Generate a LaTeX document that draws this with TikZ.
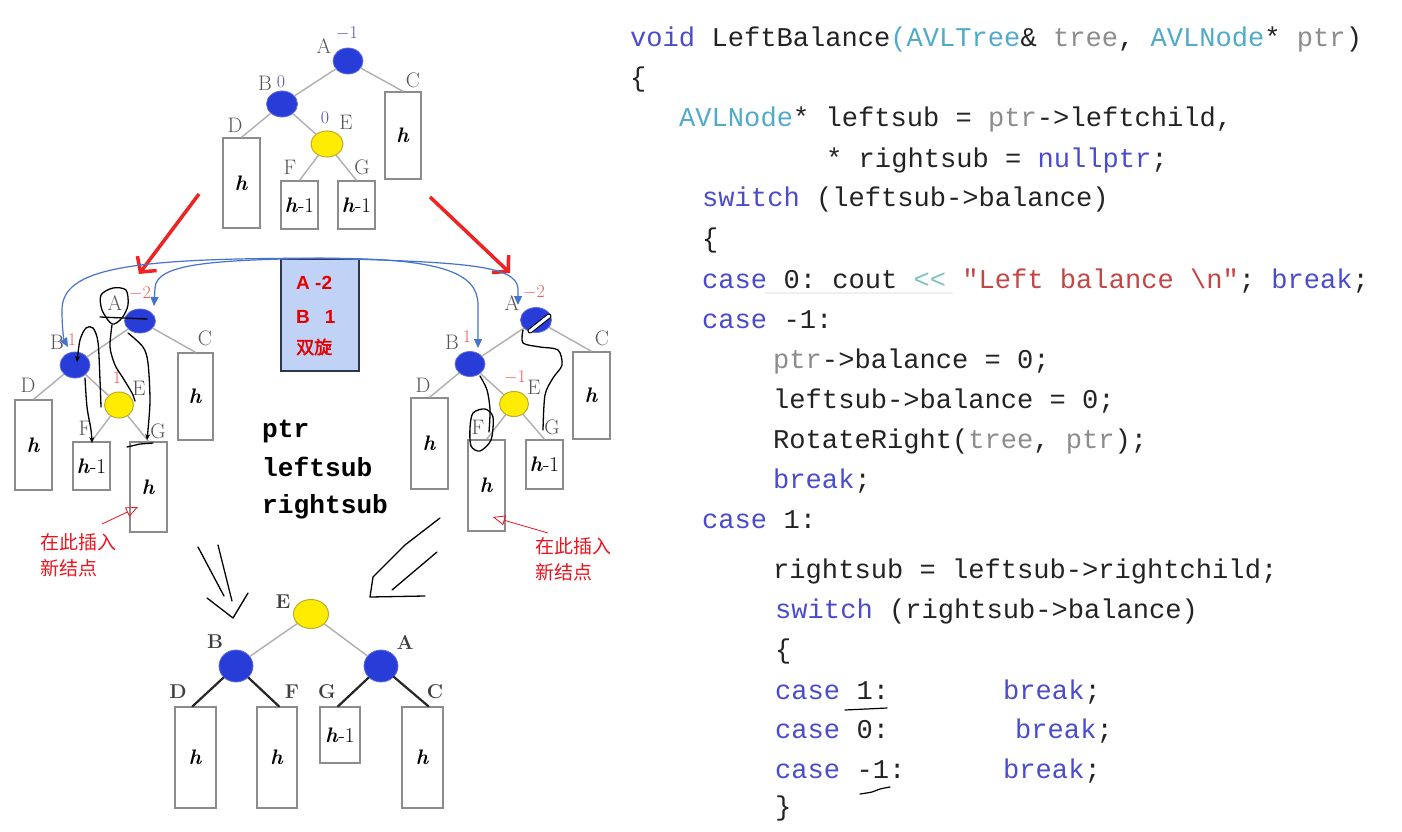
\documentclass[tikz,border=0pt]{standalone}
\usepackage{fontspec}
\setmonofont{Liberation Mono}
\newfontfamily\cjk{Noto Sans CJK SC}
\newfontfamily\cjkb{Noto Sans CJK SC}[FakeBold=2]
\newfontfamily\arialb{Liberation Sans}
\usetikzlibrary{arrows.meta,shapes.geometric}
\definecolor{nblue}{RGB}{40,60,215}
\definecolor{nyellow}{RGB}{255,236,0}
\definecolor{yborder}{RGB}{190,170,40}
\definecolor{egray}{RGB}{175,175,175}
\definecolor{bgray}{RGB}{140,140,140}
\definecolor{lgray}{RGB}{85,85,85}
\definecolor{numblue}{RGB}{80,80,185}
\definecolor{numred}{RGB}{240,90,90}
\definecolor{arrred}{RGB}{240,35,35}
\definecolor{arcblue}{RGB}{70,115,205}
\definecolor{boxfill}{RGB}{192,210,245}
\definecolor{boxdraw}{RGB}{45,55,75}
\definecolor{kwblue}{RGB}{75,75,205}
\definecolor{tyteal}{RGB}{80,170,200}
\definecolor{pgray}{RGB}{140,140,140}
\definecolor{strred}{RGB}{195,70,70}
\definecolor{optl}{RGB}{130,195,195}
\definecolor{codetxt}{RGB}{35,35,35}
\definecolor{insred}{RGB}{235,20,30}
\newcommand{\hsym}{\textbf{\textit{h}}}
\newcommand{\kwd}[1]{\textcolor{kwblue}{#1}}
\newcommand{\typ}[1]{\textcolor{tyteal}{#1}}
\newcommand{\prm}[1]{\textcolor{pgray}{#1}}
\newcommand{\strg}[1]{\textcolor{strred}{#1}}
\newcommand{\opr}[1]{\textcolor{optl}{#1}}
\begin{document}
\begin{tikzpicture}[x=1pt,y=-1pt,
  bnode/.style={ellipse, fill=nblue, draw=nblue!75!white, line width=0.8, inner sep=0},
  ynode/.style={ellipse, fill=nyellow, draw=yborder, line width=1, inner sep=0},
  tbox/.style={rectangle, draw=bgray, line width=1.3, fill=white, inner sep=0, font=\fontsize{21}{21}\selectfont},
  edge/.style={draw=egray, line width=1.4},
  lbl/.style={inner sep=0, text=lgray, font=\fontsize{21}{21}\selectfont},
  blbl/.style={inner sep=0, text=black!75, font=\bfseries\fontsize{20}{20}\selectfont},
  nb/.style={inner sep=0, text=numblue, font=\fontsize{18}{18}\selectfont},
  nr/.style={inner sep=0, text=numred, font=\fontsize{18}{18}\selectfont},
  pen/.style={draw=black, line width=1.3, line cap=round, line join=round},
  penarr/.style={pen, -{Stealth[length=6,width=5]}},
  thickpen/.style={draw=black!85, line width=2.2, line cap=round},
  redarr/.style={draw=arrred, line width=3.5, -{Straight Barb[length=11,width=24]}},
  bluearc/.style={draw=arcblue, line width=1.2, -{Triangle[length=9,width=8]}},
  insarr/.style={draw=insred, line width=0.8, -{Triangle[open,length=12,width=10]}},
  code/.style={anchor=base west, inner sep=0, text=codetxt, font=\ttfamily\fontsize{27.1}{40}\selectfont},
  midtxt/.style={anchor=base west, inner sep=0, text=black, font=\ttfamily\bfseries\fontsize{26.2}{30}\selectfont},
  cn/.style={text=insred, inner sep=0, font=\cjk\fontsize{19}{26}\selectfont, align=left, anchor=north west},
  bxt/.style={anchor=west, inner sep=0, text=red!90!black, font=\arialb\bfseries\fontsize{19}{19}\selectfont}
]
\fill[white] (0,0) rectangle (1402,832);
\useasboundingbox (0,0) rectangle (1402,832);

% ---------------- top tree ----------------
\node[tbox, minimum width=36, minimum height=87] (C0) at (403,135.5) {\hsym};
\node[tbox, minimum width=37, minimum height=90] (D0) at (241.5,183) {\hsym};
\node[tbox, minimum width=37, minimum height=48] (F0) at (299.5,205) {\hsym-1};
\node[tbox, minimum width=37, minimum height=48] (G0) at (356.5,205) {\hsym-1};
\node[bnode, minimum width=30, minimum height=26] (A0) at (348,61) {};
\node[bnode, minimum width=31, minimum height=26] (B0) at (282,104) {};
\node[ynode, minimum width=32, minimum height=26] (E0) at (327,144) {};
\draw[edge] (A0) -- (B0);
\draw[edge] (A0) -- (C0.north);
\draw[edge] (B0) -- (D0.north);
\draw[edge] (B0) -- (E0);
\draw[edge] (E0) -- (F0.north);
\draw[edge] (E0) -- (G0.north);
\node[lbl] (lA0) at (324,46) {A};
\node[nb] (nA0) at (347,33) {$-$1};
\node[lbl] (lB0) at (265,83) {B};
\node[nb] (nB0) at (281,82) {0};
\node[nb] (nE0) at (325,118) {0};
\node[lbl] (lE0) at (346,122) {E};
\node[lbl] (lC0) at (413,80) {C};
\node[lbl] (lD0) at (235,125) {D};
\node[lbl] (lF0) at (290,167) {F};
\node[lbl] (lG0) at (362,167) {G};

% red arrows
\coordinate (r1s) at (199,194);
\coordinate (r1e) at (139,274);
\coordinate (r2s) at (430,197);
\coordinate (r2e) at (510,273);
\draw[redarr] (r1s) -- (r1e);
\draw[redarr] (r2s) -- (r2e);

% ---------------- left tree ----------------
\node[tbox, minimum width=35, minimum height=87] (C1) at (195.5,396.5) {\hsym};
\node[tbox, minimum width=37, minimum height=90] (D1) at (33.5,445) {\hsym};
\node[tbox, minimum width=37, minimum height=48] (F1) at (91.5,466) {\hsym-1};
\node[tbox, minimum width=37, minimum height=90] (G1) at (148.5,487) {\hsym};
\node[bnode, minimum width=31, minimum height=24] (A1) at (140,321) {};
\node[bnode, minimum width=30, minimum height=26] (B1) at (75,365) {};
\node[ynode, minimum width=29, minimum height=26] (E1) at (119,405) {};
\draw[edge] (A1) -- (B1);
\draw[edge] (A1) -- (C1.north);
\draw[edge] (B1) -- (D1.north);
\draw[edge] (B1) -- (E1);
\draw[edge] (E1) -- (F1.north);
\draw[edge] (E1) -- (G1.north);
\node[lbl] (lA1) at (115,303) {A};
\node[nr] (nA1) at (140,293) {$-$2};
\node[lbl] (lB1) at (57,342) {B};
\node[nr] (nB1) at (72,340) {1};
\node[nr] (nE1) at (117,378) {1};
\node[lbl] (lE1) at (139,388) {E};
\node[lbl] (lC1) at (205,338) {C};
\node[lbl] (lD1) at (28,385) {D};
\node[lbl] (lF1) at (85,428) {F};
\node[lbl] (lG1) at (158,431) {G};

% ---------------- right tree ----------------
\node[tbox, minimum width=37, minimum height=87] (C2) at (591.5,395.5) {\hsym};
\node[tbox, minimum width=37, minimum height=91] (D2) at (429.5,443.5) {\hsym};
\node[tbox, minimum width=37, minimum height=91] (F2) at (486.5,485.5) {\hsym};
\node[tbox, minimum width=37, minimum height=49] (G2) at (544.5,464.5) {\hsym-1};
\node[bnode, minimum width=31, minimum height=25] (A2) at (536,320) {};
\node[bnode, minimum width=30, minimum height=25] (B2) at (470,364) {};
\node[ynode, minimum width=29, minimum height=25] (E2) at (514,404) {};
\draw[edge] (A2) -- (B2);
\draw[edge] (A2) -- (C2.north);
\draw[edge] (B2) -- (D2.north);
\draw[edge] (B2) -- (E2);
\draw[edge] (E2) -- (F2.north);
\draw[edge] (E2) -- (G2.north);
\node[lbl] (lA2) at (512,303) {A};
\node[nr] (nA2) at (534,292) {$-$2};
\node[lbl] (lB2) at (452,342) {B};
\node[nr] (nB2) at (467,337) {1};
\node[nr] (nE2) at (515,377) {$-$1};
\node[lbl] (lE2) at (534,387) {E};
\node[lbl] (lC2) at (602,338) {C};
\node[lbl] (lD2) at (423,385) {D};
\node[lbl] (lF2) at (478,427) {F};
\node[lbl] (lG2) at (552,427) {G};

% ---------------- middle box ----------------
\node[rectangle, draw=boxdraw, fill=boxfill, line width=1.5, minimum width=78, minimum height=112, inner sep=0] (box) at (320,315) {};
\node[bxt] (bt1) at (296,283) {A -2};
\node[bxt] (bt2) at (296,317) {B\hspace{15pt}1};
\node[anchor=west, inner sep=0, text=red!90!black, font=\cjkb\fontsize{18}{18}\selectfont] (bt3) at (296,347) {双旋};

% blue arcs
\coordinate (tB1) at (68,347);
\coordinate (tA1) at (154,306);
\coordinate (tB2) at (478,348);
\coordinate (tA2) at (518,305);
\draw[bluearc] (box.north) .. controls (130,258) and (62,268) .. (62,310) .. controls (62,330) and (64,340) .. (tB1);
\draw[bluearc] (box.north) .. controls (210,260) and (156,264) .. (155,288) -- (tA1);
\draw[bluearc] (box.north) .. controls (440,258) and (478,272) .. (478,305) -- (tB2);
\draw[bluearc] (box.north) .. controls (470,262) and (515,266) .. (518,288) -- (tA2);

% middle words
\node[midtxt] (mw1) at (262,437) {ptr};
\node[midtxt] (mw2) at (262,476) {leftsub};
\node[midtxt] (mw3) at (262,513) {rightsub};

% ---------------- hand scribbles on middle trees ----------------
\draw[pen] plot[smooth cycle] coordinates {(101,295) (113,288) (126,290) (128,305) (122,318) (112,324) (102,310)};
\draw[pen] (100,317) -- (147,319);
\draw[pen] plot[smooth] coordinates {(112,325) (110,347) (115,365) (123,378) (132,393) (135,401)};
\draw[penarr] plot[smooth] coordinates {(128,333) (143,347) (148,363) (150,400) (148,430) (147,440)};
\draw[penarr] plot[smooth] coordinates {(101,407) (100,380) (98,342) (93,328) (86,328) (80,340) (77,362)};
\draw[penarr] plot[smooth] coordinates {(85,378) (87,407) (91,430) (92,443)};
\draw[pen] (127,447) -- (140,444) -- (153,443);
% right
\draw[black, line width=5, line cap=round] (530,331) -- (549,316);
\draw[white, line width=3, line cap=round] (530,331) -- (549,316);
\draw[pen] plot[smooth] coordinates {(523,330) (523,343) (540,347) (558,350) (562,365) (553,378) (545,395) (543,430)};
\draw[pen] plot[smooth] coordinates {(480,376) (487,390) (490,410) (489,432)};
\draw[pen] plot[smooth cycle] coordinates {(473,413) (485,409) (493,417) (491,440) (480,451) (471,446) (470,428)};

% insertion labels
\node[cn] (ins1) at (40,533) {在此插入\\新结点};
\node[cn] (ins2) at (535,537) {在此插入\\新结点};
\coordinate (ia1) at (102,524);
\coordinate (ia1t) at (138,507);
\coordinate (ia2) at (548,533);
\coordinate (ia2t) at (493,517);
\draw[insarr] (ia1) -- (ia1t);
\draw[insarr] (ia2) -- (ia2t);

% ---------------- bottom tree ----------------
\node[tbox, minimum width=41, minimum height=101] (D3) at (195.5,757.5) {\hsym};
\node[tbox, minimum width=40, minimum height=101] (F3) at (277,757.5) {\hsym};
\node[tbox, minimum width=40, minimum height=56] (G3) at (340,735) {\hsym-1};
\node[tbox, minimum width=41, minimum height=101] (C3) at (422.5,757.5) {\hsym};
\node[ynode, minimum width=35, minimum height=29] (E3) at (311,614) {};
\node[bnode, minimum width=34, minimum height=32] (B3) at (236,666) {};
\node[bnode, minimum width=34, minimum height=32] (A3) at (381,666) {};
\draw[edge] (E3) -- (B3);
\draw[edge] (E3) -- (A3);
\draw[thickpen] (B3) -- ([xshift=-3pt]D3.north);
\draw[thickpen] (B3) -- ([xshift=2pt]F3.north);
\draw[thickpen] (A3) -- ([xshift=-2pt]G3.north);
\draw[thickpen] (A3) -- ([xshift=6pt]C3.north);
\node[blbl] (lE3) at (283,602) {E};
\node[blbl] (lB3) at (215,642) {B};
\node[blbl] (lA3) at (405,642) {A};
\node[blbl] (lD3) at (178,692) {D};
\node[blbl] (lF3) at (292,692) {F};
\node[blbl] (lG3) at (327,692) {G};
\node[blbl] (lC3) at (435,692) {C};

% hand-drawn arrows toward bottom tree
\draw[pen] (198,547) -- (224,596);
\draw[pen] (218,545) -- (232,601);
\draw[pen] (207,598) -- (233,618) -- (248,593);
\draw[pen] (440,518) -- (405,545) -- (373,577) -- (370,597) -- (425,596);
\draw[pen] (437,552) -- (392,590);

% ---------------- code ----------------
\node[code] (c1) at (630,47) {\kwd{void} LeftBalance\typ{(AVLTree}\& \prm{tree}, \typ{AVLNode}* \prm{ptr})};
\node[code] (c2) at (630,87) {\{};
\node[code] (c3) at (679,127) {\typ{AVLNode}* leftsub = \prm{ptr}->leftchild,};
\node[code] (c4) at (826,167) {* rightsub = \kwd{nullptr};};
\node[code] (c5) at (702,206) {\kwd{switch} (leftsub->balance)};
\node[code] (c6) at (702,247) {\{};
\draw[gray!12, line width=2] (765,293) -- (953,293);
\node[code] (c7) at (702,288) {\kwd{case} 0: cout \opr{<<} \strg{"Left balance \textbackslash n"}; \kwd{break};};
\node[code] (c8) at (702,328) {\kwd{case} -1:};
\node[code] (c9) at (773,368) {\prm{ptr}->balance = 0;};
\node[code] (c10) at (773,408) {leftsub->balance = 0;};
\node[code] (c11) at (773,448) {RotateRight(\prm{tree}, \prm{ptr});};
\node[code] (c12) at (773,488) {\kwd{break};};
\node[code] (c13) at (702,528) {\kwd{case} 1:};
\node[code] (c14) at (773,578) {rightsub = leftsub->rightchild;};
\node[code] (c15) at (775,618) {\kwd{switch} (rightsub->balance)};
\node[code] (c16) at (775,658) {\{};
\node[code] (c17) at (775,699) {\kwd{case} 1:};
\node[code] (b17) at (1003,699) {\kwd{break};};
\node[code] (c18) at (775,738) {\kwd{case} 0:};
\node[code] (b18) at (1015,738) {\kwd{break};};
\node[code] (c19) at (775,778) {\kwd{case} -1:};
\node[code] (b19) at (1003,778) {\kwd{break};};
\node[code] (c20) at (775,815) {\}};
\draw[pen, line width=1.2] (845,710) -- (887,708);
\draw[pen, line width=1.2] plot[smooth] coordinates {(860,794) (872,792) (880,789) (890,787)};
\end{tikzpicture}
\end{document}
